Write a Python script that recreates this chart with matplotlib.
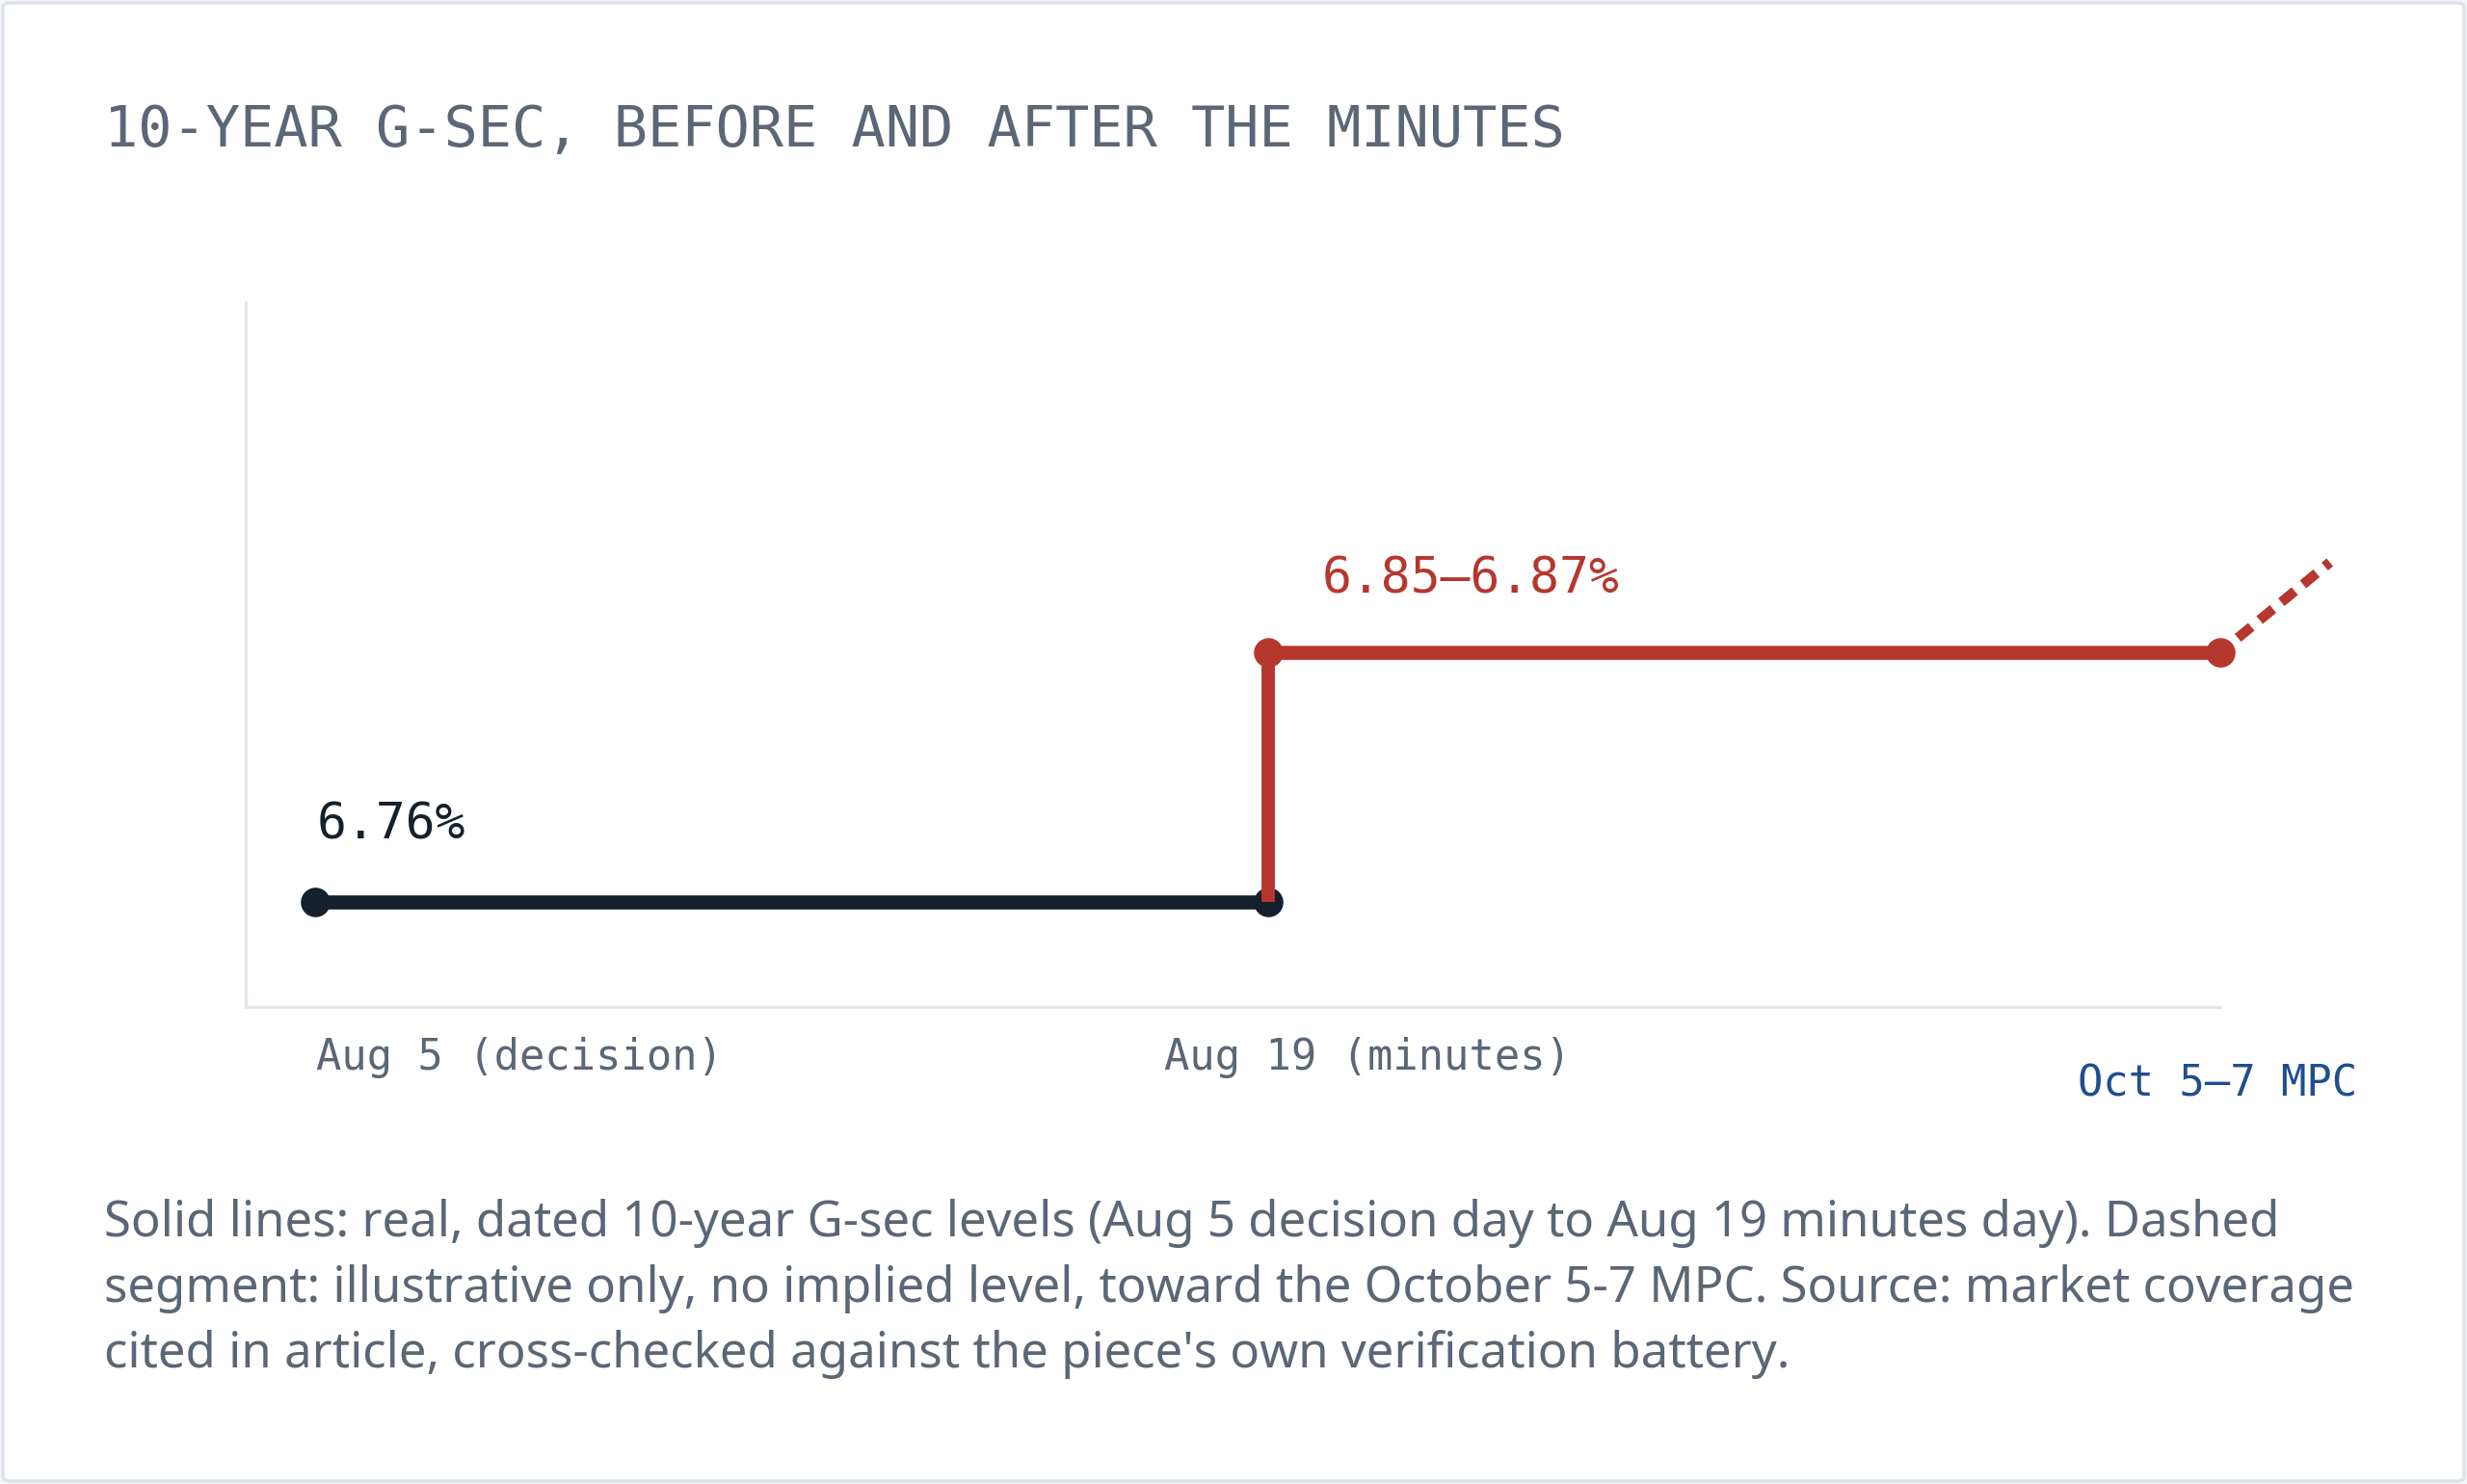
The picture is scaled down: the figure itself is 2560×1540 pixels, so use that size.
import matplotlib.pyplot as plt
from matplotlib.patches import FancyBboxPatch

# dane
pozycje = [0, 1, 2]                      # Aug 5, Aug 19, Oct 5-7
etykiety = ["Aug 5 (decision)", "Aug 19 (minutes)", "Oct 5\u20137 MPC"]
przed_x = [0, 1]
przed_y = [6.76, 6.76]
skok_x = [1, 1]
skok_y = [6.76, 6.86]
po_x = [1, 2]
po_y = [6.86, 6.86]
kreska_x = [2, 2.115]                    # ilustracyjnie
kreska_y = [6.86, 6.896]
opis_przed = "6.76%"
opis_po = "6.85\u20136.87%"

CZARNY = "#14202b"
CZERWONY = "#b5372e"
NIEBIESKI = "#1f4e8c"
SZARY = "#5b6676"
LINIA = "#dde2ea"

W, H = 2560, 1540
fig = plt.figure(figsize=(W / 100, H / 100), dpi=100, facecolor="#f4f6f9")

ramka = FancyBboxPatch((3 / W, 3 / H), (W - 6) / W, (H - 6) / H,
                       boxstyle="round,pad=0,rounding_size=0.003",
                       transform=fig.transFigure, facecolor="white",
                       edgecolor=LINIA, linewidth=2.5, zorder=-5)
fig.patches.append(ramka)

fig.text(108 / W, 1 - 152 / H, "10-YEAR G-SEC, BEFORE AND AFTER THE MINUTES",
         family="DejaVu Sans Mono", fontsize=42.2, color=SZARY, va="baseline")

ax = fig.add_axes([255 / W, 1 - 1045 / H, 2049 / W, 731 / H])
ax.set_xlim(-0.073, 2)
ax.set_ylim(6.718, 7.0)
for s in ["top", "right"]:
    ax.spines[s].set_visible(False)
for s in ["left", "bottom"]:
    ax.spines[s].set_color(LINIA)
    ax.spines[s].set_linewidth(2)
ax.set_xticks([])
ax.set_yticks([])
ax.patch.set_alpha(0)

ax.plot(przed_x, przed_y, color=CZARNY, lw=10.5, marker="o", ms=21,
        solid_capstyle="butt", clip_on=False, zorder=3)
ax.plot(skok_x, skok_y, color=CZERWONY, lw=10, solid_capstyle="butt",
        clip_on=False, zorder=4)
ax.plot(po_x, po_y, color=CZERWONY, lw=10.5, marker="o", ms=21,
        solid_capstyle="butt", clip_on=False, zorder=5)
plt.rcParams["lines.scale_dashes"] = False
ax.plot(kreska_x, kreska_y, color=CZERWONY, lw=7.5, linestyle=(4, (13, 8)),
        solid_capstyle="butt", clip_on=False, zorder=2)

ax.annotate(opis_przed, (przed_x[0], przed_y[0]), xytext=(1, 66),
            textcoords="offset pixels", family="DejaVu Sans Mono", fontsize=37,
            color=CZARNY, va="baseline", ha="left")
ax.annotate(opis_po, (po_x[0], po_y[0]), xytext=(56, 61),
            textcoords="offset pixels", family="DejaVu Sans Mono", fontsize=37,
            color=CZERWONY, va="baseline", ha="left")

# etykiety osi
przes = [(1, -65, "left", SZARY), (-108, -65, "left", SZARY),
         (142, -93, "right", NIEBIESKI)]
for p, e, (dx, dy, ha, kol) in zip(pozycje, etykiety, przes):
    ax.annotate(e, (p, 0), xycoords=("data", "axes fraction"), xytext=(dx, dy),
                textcoords="offset pixels", family="DejaVu Sans Mono",
                fontsize=31.5, color=kol, va="baseline", ha=ha,
                annotation_clip=False)

podpis = ["Solid lines: real, dated 10-year G-sec levels (Aug 5 decision day to Aug 19 minutes day). Dashed",
          "segment: illustrative only, no implied level, toward the October 5-7 MPC. Source: market coverage",
          "cited in article, cross-checked against the piece's own verification battery."]
for i, linia in enumerate(podpis):
    fig.text(108 / W, 1 - (1283 + 68 * i) / H, linia, family="Noto Sans",
             fontsize=36.7, color=SZARY, va="baseline")

fig.savefig("out.png", dpi=100, facecolor=fig.get_facecolor())
